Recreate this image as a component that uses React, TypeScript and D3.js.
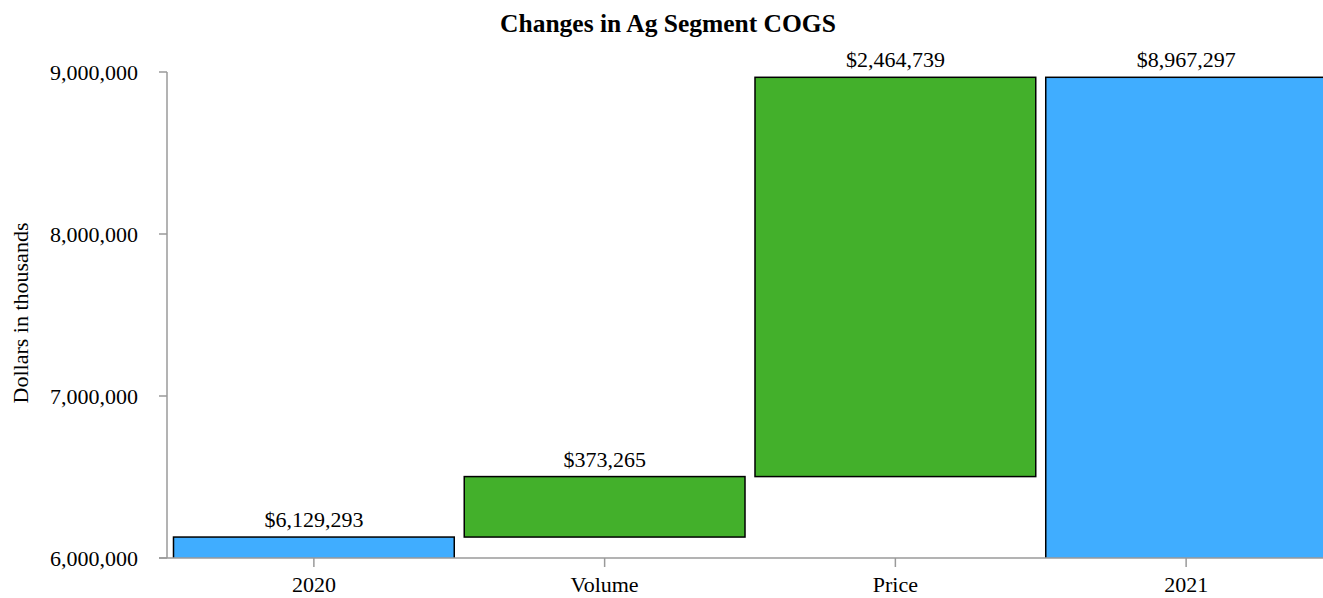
import React from "react";
import * as d3 from "d3";

const categories: string[] = ["2020", "Volume", "Price", "2021"];
const values: number[] = [6129293, 373265, 2464739, 8967297];
const kinds: string[] = ["total", "delta", "delta", "total"];
const yTicks: number[] = [6000000, 7000000, 8000000, 9000000];

const W = 1323;
const H = 598;

export default function App() {
  const y = d3.scaleLinear().domain([6000000, 9000000]).range([558, 72]);
  const x = d3
    .scaleBand<string>()
    .domain(categories)
    .range([168.5, 1331.5])
    .paddingInner(10 / 291)
    .paddingOuter(5 / 291);

  let running = 0;
  const bars = categories.map((c, i) => {
    let start: number, end: number;
    if (kinds[i] === "total") {
      start = 6000000 - 200000;
      end = values[i];
      running = values[i];
    } else {
      start = running;
      end = running + values[i];
      running = end;
    }
    return { c, start, end, kind: kinds[i], v: values[i] };
  });

  const fmt = d3.format(",");
  const font = "'Liberation Serif', 'Times New Roman', serif";
  const axisColor = "#9a9a9a";

  return (
    <svg
      width={W}
      height={H}
      style={{ position: "absolute", left: 0, top: 0, background: "#fff" }}
      fontFamily={font}
    >
      <defs>
        <clipPath id="plot">
          <rect x={168} y={0} width={W - 168} height={558} />
        </clipPath>
      </defs>
      <text
        x={668}
        y={32}
        textAnchor="middle"
        fontWeight="bold"
        fontSize={25.5}
        fill="#000"
      >
        Changes in Ag Segment COGS
      </text>
      <text
        transform={`translate(28,313) rotate(-90)`}
        textAnchor="middle"
        fontSize={22}
        fill="#000"
      >
        Dollars in thousands
      </text>
      <g clipPath="url(#plot)">
        {bars.map((b) => {
          const top = y(Math.max(b.start, b.end));
          const bottom = y(Math.min(b.start, b.end));
          return (
            <rect
              key={b.c}
              x={x(b.c)!}
              y={top}
              width={x.bandwidth()}
              height={bottom - top}
              fill={b.kind === "total" ? "#40adff" : "#43b02b"}
              stroke="#000"
              strokeWidth={1.5}
            />
          );
        })}
      </g>
      {bars.map((b) => (
        <text
          key={"l" + b.c}
          x={x(b.c)! + x.bandwidth() / 2}
          y={y(Math.max(b.start, b.end)) - 10}
          textAnchor="middle"
          fontSize={22}
          fill="#000"
        >
          {"$" + fmt(b.v)}
        </text>
      ))}
      {/* y axis */}
      <line x1={167} x2={167} y1={72} y2={558} stroke={axisColor} strokeWidth={1.5} />
      {yTicks.map((t) => (
        <g key={t}>
          <line x1={159} x2={167} y1={y(t)} y2={y(t)} stroke={axisColor} strokeWidth={1.5} />
          <text x={138} y={y(t)} dy="0.35em" textAnchor="end" fontSize={22} fill="#000">
            {fmt(t)}
          </text>
        </g>
      ))}
      {/* x axis */}
      <line x1={159} x2={W} y1={558} y2={558} stroke={axisColor} strokeWidth={1.5} />
      {categories.map((c) => (
        <g key={"x" + c}>
          <line
            x1={x(c)! + x.bandwidth() / 2}
            x2={x(c)! + x.bandwidth() / 2}
            y1={558}
            y2={567}
            stroke={axisColor}
            strokeWidth={1.5}
          />
          <text
            x={x(c)! + x.bandwidth() / 2}
            y={592}
            textAnchor="middle"
            fontSize={22}
            fill="#000"
          >
            {c}
          </text>
        </g>
      ))}
    </svg>
  );
}
